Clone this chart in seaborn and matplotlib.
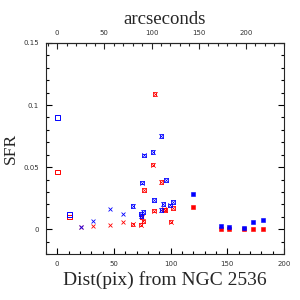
import pandas as pd
import matplotlib.pyplot as plt
import seaborn as sns
from matplotlib.ticker import MultipleLocator

# --- dados ---
# quadrados abertos
open_x = [0.0, 10.6]
open_blue = [0.090, 0.012]
open_red = [0.046, 0.010]

# cruzes simples
cross_x = [21.0, 31.5, 46.5, 58.3]
cross_blue = [0.0016, 0.0070, 0.0160, 0.0123]
cross_red = [0.0016, 0.0027, 0.0032, 0.0056]

# quadrado com cruz
sqx_blue_x = [66.5, 73.6, 74.1, 74.8, 75.9, 76.5, 84.2, 85.3, 91.8, 91.8, 93.6, 96.0, 99.5, 101.9]
sqx_blue_y = [0.0188, 0.0123, 0.0107, 0.0375, 0.0139, 0.0596, 0.0622, 0.0236, 0.0750, 0.0155,
              0.0204, 0.0397, 0.0193, 0.0220]
sqx_red_x = [66.5, 73.6, 74.5, 75.9, 76.5, 84.2, 86.0, 85.3, 91.8, 94.2, 95.0, 100.0, 101.9]
sqx_red_y = [0.0040, 0.0037, 0.0100, 0.0064, 0.0316, 0.0520, 0.1090, 0.0150, 0.0380, 0.0160,
             0.0155, 0.0062, 0.0172]

# quadrados cheios
filled_x = [120.0, 144.5, 151.8, 164.8, 172.7, 181.8]
filled_blue = [0.0282, 0.0027, 0.0019, 0.0013, 0.0056, 0.0072]
filled_red = [0.0177, 0.0002, 0.0002, 0.0000, 0.0005, 0.0005]

PIX_TO_ARCSEC = 1.203

sns.set_style("ticks")
plt.rcParams['font.family'] = ['DejaVu Sans']
serif = 'Liberation Serif'

fig = plt.figure(figsize=(3, 3), dpi=100)
ax = fig.add_axes([0.153, 0.153, 0.794, 0.704])

for cor, ys in [('red', open_red), ('blue', open_blue)]:
    sns.scatterplot(x=open_x, y=ys, marker='s', s=11, facecolor='none', edgecolor=cor,
                    linewidth=0.7, ax=ax)

for cor, ys in [('red', cross_red), ('blue', cross_blue)]:
    sns.scatterplot(x=cross_x, y=ys, marker='x', s=8, color=cor, linewidth=0.6, ax=ax)

for cor, xs, ys in [('red', sqx_red_x, sqx_red_y), ('blue', sqx_blue_x, sqx_blue_y)]:
    sns.scatterplot(x=xs, y=ys, marker='s', s=6, facecolor='none', edgecolor=cor,
                    linewidth=0.6, ax=ax)
    sns.scatterplot(x=xs, y=ys, marker='x', s=11, color=cor, linewidth=0.45, ax=ax)

for cor, ys in [('red', filled_red), ('blue', filled_blue)]:
    sns.scatterplot(x=filled_x, y=ys, marker='s', s=11, color=cor, edgecolor=cor,
                    linewidth=0.4, ax=ax)

ax.set_xlim(-10, 200)
ax.set_ylim(-0.02, 0.15)
ax.xaxis.set_major_locator(MultipleLocator(50))
ax.xaxis.set_minor_locator(MultipleLocator(10))
ax.yaxis.set_minor_locator(MultipleLocator(0.01))
ax.set_yticks([0, 0.05, 0.1, 0.15])
ax.set_yticklabels(['0', '0.05', '0.1', '0.15'])

ax.tick_params(which='both', direction='in', right=True, labelsize=5, width=0.8, pad=5,
               colors='black', labelcolor='#333333')
ax.tick_params(which='major', length=4)
ax.tick_params(which='minor', length=2)
for sp in ax.spines.values():
    sp.set_linewidth(0.8)

ax.set_xlabel('Dist(pix) from NGC 2536', family=serif, fontsize=14, labelpad=3)
ax.set_ylabel('SFR', family=serif, fontsize=12.5)
ax.yaxis.set_label_coords(-0.112, 0.5)

sec = ax.secondary_xaxis('top', functions=(lambda p: p * PIX_TO_ARCSEC,
                                           lambda a: a / PIX_TO_ARCSEC))
sec.xaxis.set_major_locator(MultipleLocator(50))
sec.xaxis.set_minor_locator(MultipleLocator(10))
sec.tick_params(which='both', direction='in', labelsize=5, width=0.8, pad=5,
                labelcolor='#333333')
sec.tick_params(which='major', length=4)
sec.tick_params(which='minor', length=2)
sec.set_xlabel('arcseconds', family=serif, fontsize=13.5, labelpad=4)

fig.savefig('out.png', dpi=100)
plt.close(fig)
